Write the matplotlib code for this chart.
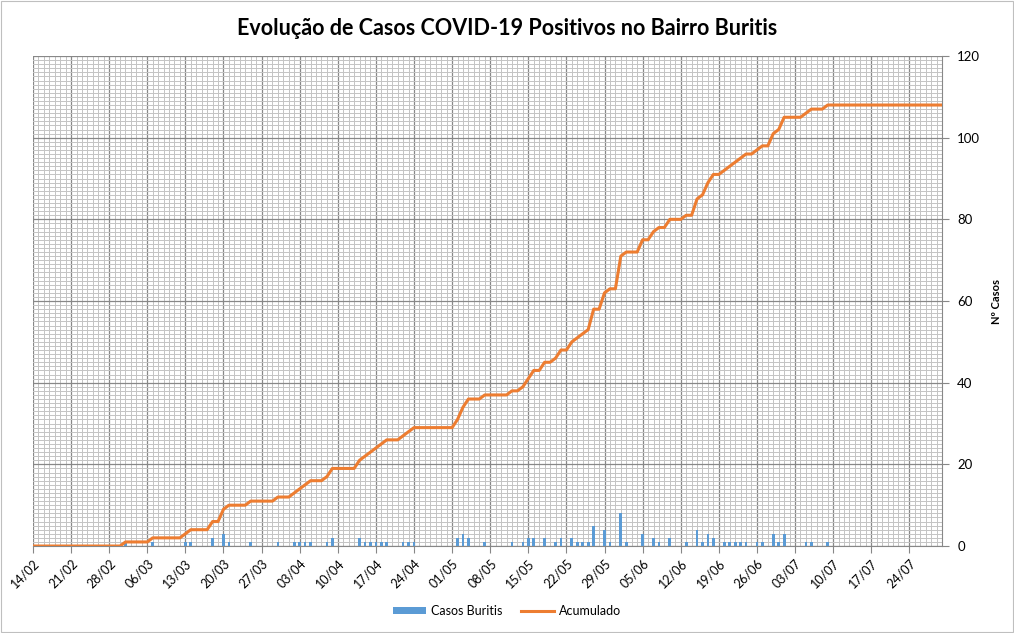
import numpy as np
import pandas as pd
import matplotlib
matplotlib.use('Agg')
import matplotlib.pyplot as plt
import matplotlib.dates as mdates
from matplotlib.patches import Rectangle

# daily positive cases (only days with cases)
case_dates = ['2020-03-02', '2020-03-07', '2020-03-13', '2020-03-14', '2020-03-18',
              '2020-03-20', '2020-03-21', '2020-03-25', '2020-03-30', '2020-04-02',
              '2020-04-03', '2020-04-04', '2020-04-05', '2020-04-08', '2020-04-09',
              '2020-04-14', '2020-04-15', '2020-04-16', '2020-04-17', '2020-04-18',
              '2020-04-19', '2020-04-22', '2020-04-23', '2020-04-24', '2020-05-02',
              '2020-05-03', '2020-05-04', '2020-05-07', '2020-05-12', '2020-05-14',
              '2020-05-15', '2020-05-16', '2020-05-18', '2020-05-20', '2020-05-21',
              '2020-05-23', '2020-05-24', '2020-05-25', '2020-05-26', '2020-05-27',
              '2020-05-29', '2020-05-30', '2020-06-01', '2020-06-02', '2020-06-05',
              '2020-06-07', '2020-06-08', '2020-06-10', '2020-06-13', '2020-06-15',
              '2020-06-16', '2020-06-17', '2020-06-18', '2020-06-20', '2020-06-21',
              '2020-06-22', '2020-06-23', '2020-06-24', '2020-06-26', '2020-06-27',
              '2020-06-29', '2020-06-30', '2020-07-01', '2020-07-05', '2020-07-06',
              '2020-07-09']
case_values = [1, 1, 1, 1, 2,
               3, 1, 1, 1, 1,
               1, 1, 1, 1, 2,
               2, 1, 1, 1, 1,
               1, 1, 1, 1, 2,
               3, 2, 1, 1, 1,
               2, 2, 2, 1, 2,
               2, 1, 1, 1, 5,
               4, 1, 8, 1, 3,
               2, 1, 2, 1, 4,
               1, 3, 2, 1, 1,
               1, 1, 1, 1, 1,
               3, 1, 3, 1, 1,
               1]

start_date = '2020-02-14'
end_date = '2020-07-30'
tick_labels = ['14/02', '21/02', '28/02', '06/03', '13/03', '20/03', '27/03', '03/04',
               '10/04', '17/04', '24/04', '01/05', '08/05', '15/05', '22/05', '29/05',
               '05/06', '12/06', '19/06', '26/06', '03/07', '10/07', '17/07', '24/07']

days = pd.date_range(start_date, end_date, freq='D')
daily = pd.Series(0, index=days)
daily.loc[pd.to_datetime(case_dates)] = case_values
acumulado = daily.cumsum()

plt.rcParams['font.family'] = ['Lato', 'DejaVu Sans']

fig = plt.figure(figsize=(10.14, 6.33), dpi=100)
ax = fig.add_axes([0.0325, 0.1374, 0.8965, 0.7741])

x = mdates.date2num(days.to_pydatetime())
bars = ax.bar(x, daily.values, width=0.5, color='#5B9BD5', label='Casos Buritis', zorder=3)
line, = ax.plot(x, acumulado.values, color='#ED7D31', lw=2.2, label='Acumulado', zorder=4)

ax.set_xlim(x[0], x[-1])
ax.set_ylim(0, 120)

# grid: weekly / 20 major, daily / 1 minor
ticks = mdates.date2num(pd.date_range(start_date, periods=len(tick_labels), freq='7D').to_pydatetime())
ax.set_xticks(ticks)
ax.set_xticklabels(tick_labels, rotation=45, ha='right', rotation_mode='anchor', fontsize=9)
ax.set_xticks(x, minor=True)
ax.set_yticks(np.arange(0, 121, 20))
ax.set_yticks(np.arange(0, 121, 1), minor=True)
ax.grid(which='minor', color='#c4c4c4', lw=0.7, zorder=0)
ax.grid(which='major', color='#888888', lw=0.9, zorder=1)
ax.set_axisbelow(True)

ax.yaxis.tick_right()
ax.yaxis.set_label_position('right')
ax.tick_params(axis='y', which='major', labelsize=9.5, length=5, color='#878787', pad=6)
ax.tick_params(axis='x', which='major', length=5, color='#878787', pad=3)
ax.tick_params(which='minor', length=0)
ax.set_ylabel('Nº Casos', fontsize=8, fontweight='bold', labelpad=8)

for side in ['top', 'left']:
    ax.spines[side].set_visible(False)
for side in ['bottom', 'right']:
    ax.spines[side].set_color('#878787')

fig.text(0.5, 0.955, 'Evolução de Casos COVID-19 Positivos no Bairro Buritis',
         ha='center', va='center', fontsize=15.5, fontweight='bold')

fig.legend([bars, line], ['Casos Buritis', 'Acumulado'], loc='center',
           bbox_to_anchor=(0.5, 0.035), ncol=2, frameon=False,
           fontsize=9, handlelength=2.6, handleheight=0.5, columnspacing=1.5,
           handletextpad=0.4)

fig.patches.append(Rectangle((0.001, 0.001), 0.998, 0.998, transform=fig.transFigure,
                             fill=False, edgecolor='#bfbfbf', lw=0.8))

fig.savefig('out.png', dpi=100)
